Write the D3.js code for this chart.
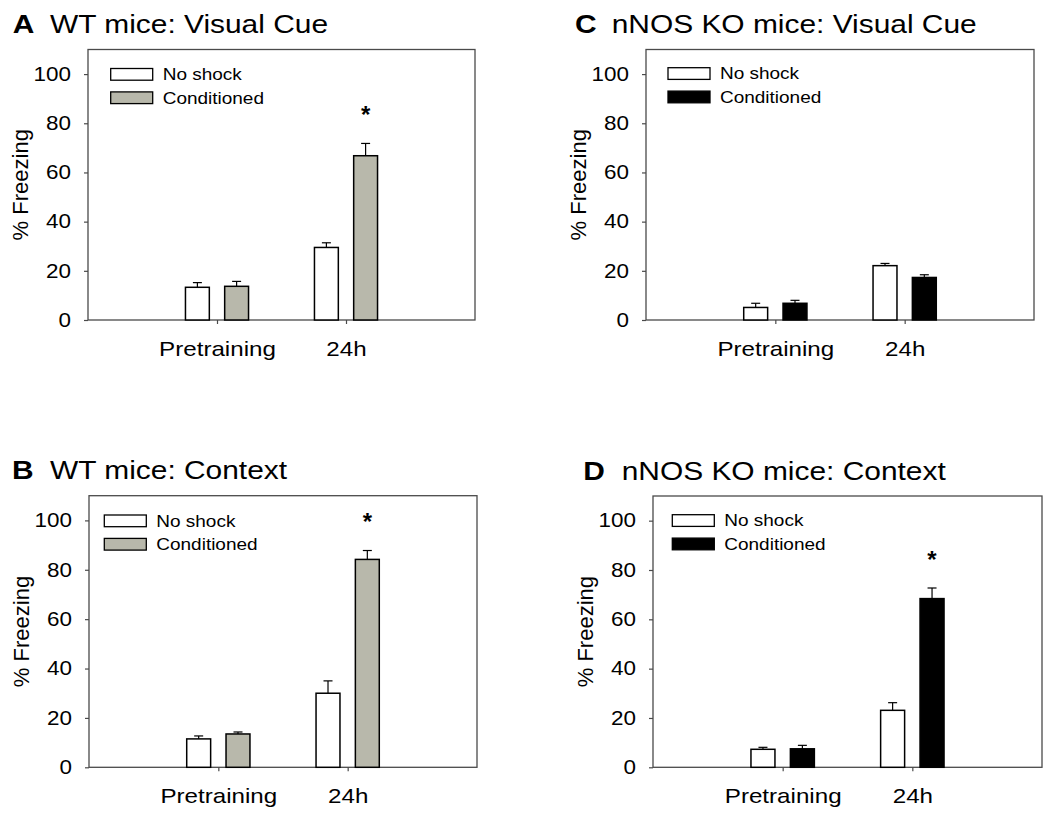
<!DOCTYPE html>
<html>
<head>
<meta charset="utf-8">
<script src="https://cdn.jsdelivr.net/npm/d3@7"></script>
<style>
  body { margin: 0; background: #fff; }
  text { font-family: Arial, "Liberation Sans", sans-serif; fill: #000; }
</style>
</head>
<body>
<svg id="fig" width="1050" height="813"></svg>
<script>
"use strict";
// data (% freezing, mean and SEM)
const categories = ["Pretraining", "24h"];
const groups = ["No shock", "Conditioned"];
const yTicks = [0, 20, 40, 60, 80, 100];

const wtCueNoShock = [13.3, 29.5];
const wtCueNoShockErr = [1.9, 1.9];
const wtCueCond = [13.7, 66.8];
const wtCueCondErr = [2.0, 5.0];
const wtCueStars = [false, true];

const wtCtxNoShock = [11.5, 30.0];
const wtCtxNoShockErr = [1.2, 5.0];
const wtCtxCond = [13.5, 84.2];
const wtCtxCondErr = [0.8, 3.6];
const wtCtxStars = [false, true];

const koCueNoShock = [5.1, 22.1];
const koCueNoShockErr = [1.7, 0.9];
const koCueCond = [6.8, 17.3];
const koCueCondErr = [1.2, 1.1];
const koCueStars = [false, false];

const koCtxNoShock = [7.3, 23.1];
const koCtxNoShockErr = [0.8, 3.1];
const koCtxCond = [7.5, 68.4];
const koCtxCondErr = [1.4, 4.3];
const koCtxStars = [false, true];

// layout of the four panels
const panels = [
  { letter: "A", title: "WT mice: Visual Cue", fill: "#b8b8ab",
    left: 88, right: 475, top: 49.5, bottom: 320, letterX: 12.7, titleX: 50, titleY: 33.3, legX: 22.7, legY: 19,
    noShock: wtCueNoShock, noShockErr: wtCueNoShockErr, cond: wtCueCond, condErr: wtCueCondErr, stars: wtCueStars },
  { letter: "B", title: "WT mice: Context", fill: "#b8b8ab",
    left: 89, right: 477, top: 495.7, bottom: 767.3, letterX: 12, titleX: 50, titleY: 479.3, legX: 15.3, legY: 19.3,
    noShock: wtCtxNoShock, noShockErr: wtCtxNoShockErr, cond: wtCtxCond, condErr: wtCtxCondErr, stars: wtCtxStars },
  { letter: "C", title: "nNOS KO mice: Visual Cue", fill: "#000",
    left: 646, right: 1034, top: 49.5, bottom: 320, letterX: 575, titleX: 611.7, titleY: 33.3, legX: 22, legY: 18.2,
    noShock: koCueNoShock, noShockErr: koCueNoShockErr, cond: koCueCond, condErr: koCueCondErr, stars: koCueStars },
  { letter: "D", title: "nNOS KO mice: Context", fill: "#000",
    left: 653, right: 1042, top: 496, bottom: 767.3, letterX: 583.3, titleX: 621.7, titleY: 480, legX: 19.3, legY: 18.7,
    noShock: koCtxNoShock, noShockErr: koCtxNoShockErr, cond: koCtxCond, condErr: koCtxCondErr, stars: koCtxStars }
];

// the original figure is stretched sideways a bit
const STRETCH = 1.15;
function stretch(sel) {
  sel.each(function () {
    const w = this.getComputedTextLength();
    this.setAttribute("textLength", w * STRETCH);
    this.setAttribute("lengthAdjust", "spacingAndGlyphs");
  });
}

const svg = d3.select("#fig");

panels.forEach(p => {
  const g = svg.append("g");
  const x = d3.scaleLinear().domain([0, 3]).range([p.left, p.right]);
  const y = d3.scaleLinear().domain([0, 110]).range([p.bottom, p.top]);
  const barW = x(0.185) - x(0);
  const offset = 0.152;

  // title
  g.append("text").attr("x", p.letterX).attr("y", p.titleY)
    .style("font-size", "26px").style("font-weight", "bold").text(p.letter).call(stretch);
  g.append("text").attr("x", p.titleX).attr("y", p.titleY)
    .style("font-size", "26px").text(p.title).call(stretch);

  // frame
  g.append("rect")
    .attr("x", p.left).attr("y", p.top)
    .attr("width", p.right - p.left).attr("height", p.bottom - p.top)
    .attr("fill", "none").attr("stroke", "#4a4a4a").attr("stroke-width", 1.3);

  // y axis
  const yAxis = g.append("g")
    .attr("transform", `translate(${p.left},0)`)
    .call(d3.axisLeft(y).tickValues(yTicks).tickSize(4).tickSizeOuter(0).tickPadding(13));
  yAxis.select(".domain").remove();
  yAxis.selectAll(".tick line").attr("stroke", "#4a4a4a").attr("stroke-width", 1.2);
  yAxis.selectAll(".tick text").style("font-size", "19.5px").attr("font-family", null).call(stretch);

  // x axis
  const xAxis = g.append("g")
    .attr("transform", `translate(0,${p.bottom})`)
    .call(d3.axisBottom(x).tickValues([1, 2]).tickSize(4).tickSizeOuter(0).tickPadding(16.7)
      .tickFormat(d => categories[d - 1]));
  xAxis.select(".domain").remove();
  xAxis.selectAll(".tick line").attr("stroke", "#4a4a4a").attr("stroke-width", 1.2);
  xAxis.selectAll(".tick text").style("font-size", "21px").attr("font-family", null).call(stretch);

  // y label
  g.append("text")
    .attr("transform", "rotate(-90)")
    .attr("x", -(p.top + p.bottom) / 2)
    .attr("y", p.left - 68)
    .attr("dy", "0.35em")
    .attr("text-anchor", "middle")
    .style("font-size", "22px")
    .text("% Freezing");

  // bars
  const series = [
    { vals: p.noShock, errs: p.noShockErr, off: -offset, fill: "#fff" },
    { vals: p.cond, errs: p.condErr, off: offset, fill: p.fill }
  ];
  series.forEach(s => {
    const cx = i => x(i + 1 + s.off);
    // error bars (upper only)
    g.selectAll(null).data(s.vals).enter().append("line")
      .attr("x1", (d, i) => cx(i)).attr("x2", (d, i) => cx(i))
      .attr("y1", d => y(d)).attr("y2", (d, i) => y(d + s.errs[i]))
      .attr("stroke", "#000").attr("stroke-width", 1.2);
    g.selectAll(null).data(s.vals).enter().append("line")
      .attr("x1", (d, i) => cx(i) - 4.5).attr("x2", (d, i) => cx(i) + 4.5)
      .attr("y1", (d, i) => y(d + s.errs[i])).attr("y2", (d, i) => y(d + s.errs[i]))
      .attr("stroke", "#000").attr("stroke-width", 1.2);
    g.selectAll(null).data(s.vals).enter().append("rect")
      .attr("x", (d, i) => cx(i) - barW / 2)
      .attr("y", d => y(d))
      .attr("width", barW)
      .attr("height", d => y(0) - y(d))
      .attr("fill", s.fill).attr("stroke", "#000").attr("stroke-width", 1.5);
  });

  // significance stars
  g.selectAll(null).data(p.cond).enter()
    .filter((d, i) => p.stars[i])
    .append("text")
    .attr("x", x(2 + offset))
    .attr("y", d => y(d + p.condErr[1] + 13.5) + 13)
    .attr("text-anchor", "middle")
    .style("font-size", "24px")
    .style("font-weight", "bold")
    .text("*");

  // legend
  const leg = g.append("g").attr("transform", `translate(${p.left + p.legX},${p.top + p.legY})`);
  groups.forEach((name, i) => {
    leg.append("rect")
      .attr("x", 0).attr("y", i * 23.4)
      .attr("width", 42).attr("height", 11.7)
      .attr("fill", i === 0 ? "#fff" : p.fill)
      .attr("stroke", "#000").attr("stroke-width", 1.3);
    leg.append("text")
      .attr("x", 52).attr("y", i * 23.4 + 11.7)
      .style("font-size", "16.5px")
      .text(name).call(stretch);
  });
});
</script>
</body>
</html>
